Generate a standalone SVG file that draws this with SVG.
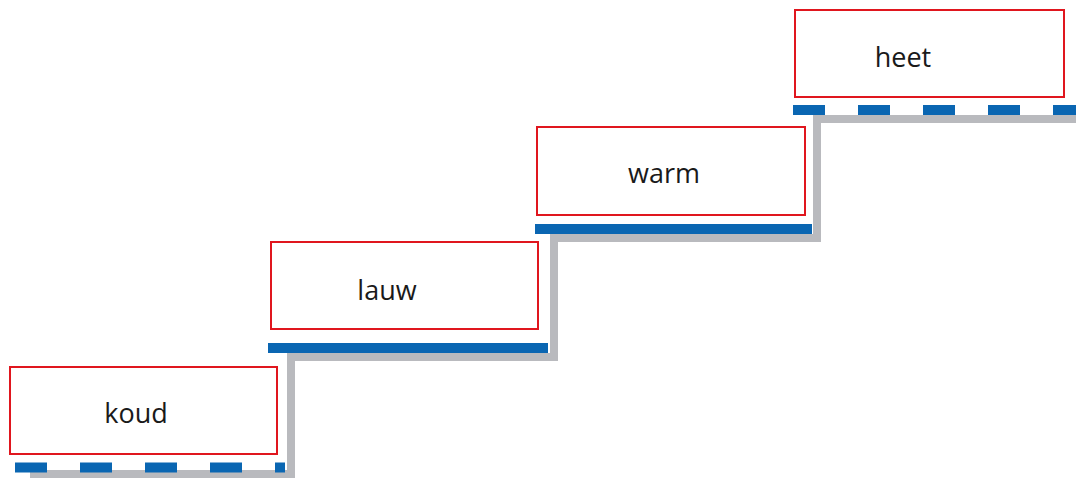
<svg xmlns="http://www.w3.org/2000/svg" width="1076" height="478" viewBox="0 0 1076 478">
<style>
.box{fill:#fff;stroke:#e0161e;stroke-width:2}
.lbl{font-family:"Open Sans","Liberation Sans",sans-serif;font-size:27px;fill:#1a1a1a;text-anchor:middle}
.shadow{fill:none;stroke:#b9babe;stroke-width:8}
.tread{stroke:#0a66b2;stroke-width:10}
.dash{stroke-dasharray:32 33}
</style>
<rect width="1076" height="478" fill="#fff"/>
<g id="connectors">
<path class="shadow" d="M30,474 H291 V357 H554 V238 H817 V119 H1076"/>
<line class="tread dash" x1="15" y1="467.5" x2="285" y2="467.5"/>
<line class="tread" x1="268" y1="348" x2="548" y2="348"/>
<line class="tread" x1="535" y1="229" x2="812" y2="229"/>
<line class="tread dash" x1="793" y1="110" x2="1076" y2="110"/>
</g>
<g id="koud"><rect class="box" x="10" y="367" width="267" height="87"/><text class="lbl" x="136" y="423">koud</text></g>
<g id="lauw"><rect class="box" x="271" y="242" width="267" height="87"/><text class="lbl" x="387" y="300">lauw</text></g>
<g id="warm"><rect class="box" x="537" y="127" width="268" height="88"/><text class="lbl" x="664" y="183">warm</text></g>
<g id="heet"><rect class="box" x="795" y="10" width="269" height="87"/><text class="lbl" x="903" y="67">heet</text></g>
</svg>
